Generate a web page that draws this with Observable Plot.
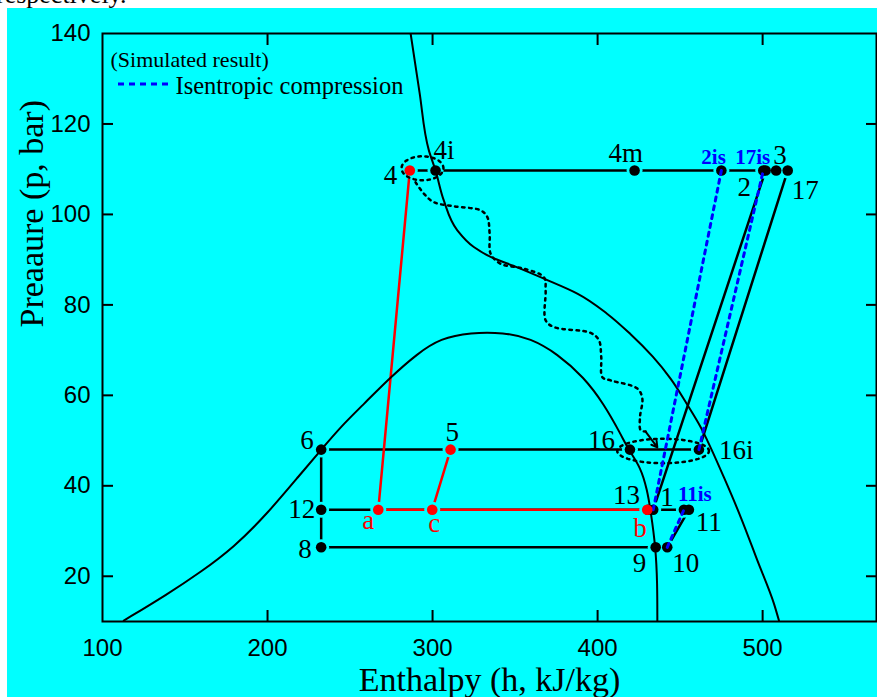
<!DOCTYPE html>
<html><head><meta charset="utf-8">
<script src="https://cdn.jsdelivr.net/npm/d3@7"></script>
<script src="https://cdn.jsdelivr.net/npm/@observablehq/plot@0.6"></script>
<style>
html,body{margin:0;padding:0;background:#fff;width:877px;height:697px;overflow:hidden;position:relative;}
#top{position:absolute;left:0;top:0;width:877px;height:8px;overflow:hidden;}
#top span{position:absolute;left:-4px;top:-20px;font:26px "Liberation Serif";color:#000;white-space:nowrap;line-height:normal;}
#bg{position:absolute;left:7px;top:8px;right:0;bottom:0;background:#00ffff;}
#chart{position:absolute;left:0;top:0;}
#legline{position:absolute;left:0;top:0;pointer-events:none;}
</style></head><body>
<div id="top"><span>respectively.</span></div>
<div id="bg"></div>
<div id="chart"></div>
<svg id="legline" width="877" height="697"><line id="ll" stroke="#0000ff" stroke-width="3" stroke-dasharray="6,5"/></svg>
<script>
// ---- axis ticks ----
const xTicks = [100, 200, 300, 400, 500];
const yTicks = [20, 40, 60, 80, 100, 120, 140];

// ---- state points (h in kJ/kg, p in bar) ----
const pointNames = ["4","4i","4m","2is","17is","2","3","17","6","5","16","16i","12","a","c","13","b","1","11is","11","8","9","10"];
const pointH =     [286.2,301.8,422.4,475.0,500.4,501.8,508.2,515.2,232.5,310.9,419.6,461.4,232.5,267.1,299.8,430.5,430.1,433.7,452.3,455.3,232.5,435.2,442.2];
const pointP =     [109.7,109.7,109.7,109.7,109.7,109.7,109.7,109.7,48,48,48,48,34.7,34.7,34.7,34.7,34.7,34.7,34.7,34.7,26.4,26.4,26.4];
const redPoints = ["4","5","a","c","b"];
const redLabels = ["a","b","c"];
const blueLabels = ["2is","17is","11is"];

// ---- process lines (by point name) ----
const blackPaths = [
  ["4","4i","4m","2is","17is","2","3","17"],
  ["6","16","16i"],
  ["12","13","1","11is","11"],
  ["8","9","10"],
  ["6","12","8"],
  ["1","2"],
  ["16i","17"],
  ["10","11"]
];
const redPaths = [["4","a"],["a","c","b"],["c","5"]];
const bluePaths = [["1","2is"],["16i","17is"],["10","11is"]];

// ---- saturation dome ----
const domeH = [112.9,139.2,159.4,179.6,199.8,220.0,232.1,244.2,258.4,274.5,290.7,304.8,323.0,343.2,359.4,375.6,391.7,403.8,413.9,419.0,426.1,430.1,432.1,435.2,436.2,436.2];
const domeP = [10.2,16.0,20.9,26.4,33.8,42.6,47.8,53.0,58.1,64.0,69.2,72.6,73.9,73.9,72.6,69.2,64.0,58.1,51.5,47.8,44.1,39.0,34.6,26.4,18.4,10.0];

// ---- isotherm ----
const isoH = [286.7,292.1,297.8,301.8,306.8,315.0,325.0,335.2,351.3,367.5,387.7,405.9,420.0,433.3,444.2,453.9,462.4,466.5,476.5,486.7,496.8,506.9,509.9];
const isoP = [140,127.0,114.1,109.7,103.1,96.5,92.8,90.6,88.3,85.8,82.5,78.0,73.5,68.6,63.7,58.2,53.0,50.0,41.9,33.1,23.5,13.9,10.2];

// ---- dotted transition path ----
const pathH = [289.7,294.7,300.8,312.9,329.1,333.2,334.6,335.2,341.2,355.3,367.5,368.5,368.5,373.5,395.8,400.8,402.2,402.9,407.9,424.1,427.1,425.7,426.1,429.1];
const pathP = [107.1,104.6,102.7,101.8,100.9,99.4,95.7,91.3,89.1,88.0,86.1,83.2,76.6,75.1,73.8,72.2,68.5,64.0,63.3,61.5,59.3,55.2,52.3,52.0];
const arrowH = [429.1, 436.2];
const arrowP = [52.0, 48.5];

// ---- dotted ellipses (centre and half-axes in data units) ----
const ellipseCH = [293.9, 439.7];
const ellipseCP = [110.2, 47.7];
const ellipseRH = [12.7, 27.8];
const ellipseRP = [2.65, 2.7];

// ---- texts ----
const legendTitle = "(Simulated result)";
const legendItem = "Isentropic compression";
const xTitle = "Enthalpy (h, kJ/kg)";
const yTitle = "Preaaure (p, bar)";

// ================= build =================
const pts = pointNames.map((n, i) => ({name: n, h: pointH[i], p: pointP[i], red: redPoints.includes(n)}));
const byName = Object.fromEntries(pts.map(d => [d.name, d]));
const pathData = paths => paths.flatMap((path, g) => path.map(n => ({...byName[n], g})));
const dome = domeH.map((h, i) => ({h, p: domeP[i]}));
const iso = isoH.map((h, i) => ({h, p: isoP[i]}));
const dpath = pathH.map((h, i) => ({h, p: pathP[i]}));
const arrowSeg = [{x1: arrowH[0], y1: arrowP[0], x2: arrowH[1], y2: arrowP[1]}];
const ellipses = ellipseCH.flatMap((ch, k) => d3.range(0, 73).map(j => {
  const t = j / 72 * 2 * Math.PI;
  return {k, h: ch + ellipseRH[k] * Math.cos(t), p: ellipseCP[k] + ellipseRP[k] * Math.sin(t)};
}));

const CY = "#00ffff", BL = "#0000ff", RD = "#ff0000";
const serif = "Liberation Serif", sans = "Liberation Sans";

const labelLayout = {
  "4": [-26, 13], "4i": [-2, -12], "4m": [-26, -9], "2is": [-20, -7], "17is": [-28, -7], "3": [-3, -7],
  "2": [-28, 25], "17": [4, 28], "16": [-42, -1], "16i": [20, 9], "13": [-35, -6], "1": [7, -4],
  "11is": [-6, -9], "11": [7, 21], "b": [-14, 27], "9": [-23, 25], "10": [5, 25], "6": [-21, -1],
  "5": [-5, -9], "12": [-33, 8], "a": [-16, 19], "c": [-4, 22], "8": [-23, 11]
};

const labelMarks = pts.map(d => {
  const [dx, dy] = labelLayout[d.name];
  const blue = blueLabels.includes(d.name);
  const red = redLabels.includes(d.name);
  return Plot.text([d], {
    x: "h", y: "p", text: "name", dx, dy, textAnchor: "start", lineAnchor: "bottom",
    fill: blue ? BL : red ? RD : "black",
    fontSize: blue ? 21 : 27,
    fontWeight: blue ? "bold" : "normal",
    fontFamily: serif
  });
});

const chart = Plot.plot({
  width: 877, height: 697,
  marginLeft: 102, marginRight: 1, marginTop: 33, marginBottom: 76,
  x: {domain: [100, 569], label: null},
  y: {domain: [10, 140], label: null},
  style: {background: "transparent", overflow: "visible"},
  marks: [
    Plot.axisX({anchor: "bottom", ticks: xTicks, tickSize: 0, tickPadding: 17, fontSize: 24, fontFamily: sans, fill: "black", label: null}),
    Plot.axisY({anchor: "left", ticks: yTicks, tickSize: 0, tickPadding: 12, fontSize: 24, fontFamily: sans, fill: "black", label: null}),
    Plot.axisX({anchor: "bottom", ticks: xTicks.slice(1), tickSize: -11, tickFormat: () => "", strokeWidth: 2, label: null}),
    Plot.axisX({anchor: "top", ticks: xTicks.slice(1), tickSize: -11, tickFormat: () => "", strokeWidth: 2, label: null}),
    Plot.axisY({anchor: "left", ticks: yTicks.slice(0, -1), tickSize: -11, tickFormat: () => "", strokeWidth: 2, label: null}),
    Plot.axisY({anchor: "right", ticks: yTicks.slice(0, -1), tickSize: -11, tickFormat: () => "", strokeWidth: 2, label: null}),
    Plot.frame({stroke: "black", strokeWidth: 2}),
    Plot.line(pathData(blackPaths), {x: "h", y: "p", z: "g", stroke: "black", strokeWidth: 2.5}),
    Plot.line(pathData(redPaths), {x: "h", y: "p", z: "g", stroke: RD, strokeWidth: 2.5}),
    Plot.dot(pts, {x: "h", y: "p", r: 8, fill: CY, stroke: "none"}),
    Plot.dot(pts.filter(d => !d.red), {x: "h", y: "p", r: 5.3, fill: "black", stroke: "none"}),
    Plot.line(dome, {x: "h", y: "p", curve: "basis", stroke: "black", strokeWidth: 2, clip: true}),
    Plot.line(iso, {x: "h", y: "p", curve: "monotone-y", stroke: "black", strokeWidth: 2, clip: true}),
    Plot.line(dpath, {x: "h", y: "p", curve: "catmull-rom", stroke: "black", strokeWidth: 2.5, strokeDasharray: "2.5,4.5"}),
    Plot.line(ellipses, {x: "h", y: "p", z: "k", stroke: "black", strokeWidth: 2.5, strokeDasharray: "2.5,4.5"}),
    Plot.arrow(arrowSeg, {x1: "x1", y1: "y1", x2: "x2", y2: "y2", stroke: "black", strokeWidth: 2, headLength: 10}),
    Plot.line(pathData(bluePaths), {x: "h", y: "p", z: "g", stroke: BL, strokeWidth: 3, strokeDasharray: "4,5"}),
    Plot.dot(pts.filter(d => d.red), {x: "h", y: "p", r: 5.3, fill: RD, stroke: "none"}),
    ...labelMarks,
    Plot.text([legendTitle], {frameAnchor: "top-left", dx: 8, dy: 33, textAnchor: "start", lineAnchor: "bottom", fontSize: 22, fontFamily: serif, fill: "black"}),
    Plot.text([legendItem], {frameAnchor: "top-left", dx: 73, dy: 60, textAnchor: "start", lineAnchor: "bottom", fontSize: 24.5, fontFamily: serif, fill: "black"}),
    Plot.text([xTitle], {frameAnchor: "bottom", dy: 69, lineAnchor: "bottom", fontSize: 34, fontFamily: serif, fill: "black"}),
    Plot.text([yTitle], {frameAnchor: "left", dx: -60, rotate: -90, lineAnchor: "bottom", fontSize: 34, fontFamily: serif, fill: "black"})
  ]
});
document.getElementById("chart").appendChild(chart);

const ll = document.getElementById("ll");
ll.setAttribute("x1", 118); ll.setAttribute("x2", 172);
ll.setAttribute("y1", 84); ll.setAttribute("y2", 84);
</script>
</body></html>
